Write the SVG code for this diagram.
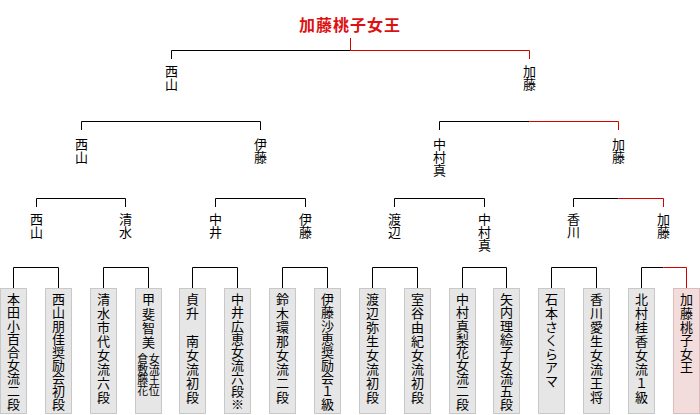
<svg xmlns="http://www.w3.org/2000/svg" width="700" height="415" viewBox="0 0 700 415">
<style>
.t{font-family:"Noto Sans CJK JP","Noto Sans CJK SC",sans-serif;font-size:13px;text-anchor:middle;fill:#000}
.s{font-size:11px}
.title{font-family:"Noto Sans CJK JP","Noto Sans CJK SC",sans-serif;font-size:16px;font-weight:bold;text-anchor:middle;fill:#dd1111;letter-spacing:1px}
.box{fill:#e6e6e6;stroke:#c8c8c8;stroke-width:1}
.win{fill:#f3dcdc;stroke:#dcbcbc;stroke-width:1}
.ln{fill:none;stroke:#000;stroke-width:1}
.rd{fill:none;stroke:#d40000;stroke-width:1}
</style>
<rect width="700" height="415" fill="#fff"/>
<g id="connectors">
<path class="ln" d="M171.5 59V50.5H350.5"/>
<path class="rd" d="M350.5 38V50.5H529.5V59"/>
<path class="ln" d="M81.5 130V121.5H260.5V130"/>
<path class="ln" d="M439.5 130V121.5H529.5"/>
<path class="rd" d="M529.5 121.5H618.5V130"/>
<path class="ln" d="M36.5 207V198.5H125.5V207"/>
<path class="ln" d="M215.5 207V198.5H305.5V207"/>
<path class="ln" d="M394.5 207V198.5H484.5V207"/>
<path class="ln" d="M573.5 207V198.5H618.5"/>
<path class="rd" d="M618.5 198.5H663.5V207"/>
<path class="ln" d="M13.5 288V267.5H58.5V288"/>
<path class="ln" d="M103.5 288V267.5H148.5V288"/>
<path class="ln" d="M192.5 288V267.5H237.5V288"/>
<path class="ln" d="M282.5 288V267.5H327.5V288"/>
<path class="ln" d="M372.5 288V267.5H417.5V288"/>
<path class="ln" d="M462.5 288V267.5H506.5V288"/>
<path class="ln" d="M551.5 288V267.5H596.5V288"/>
<path class="ln" d="M641.5 288V267.5H663.5"/>
<path class="rd" d="M663.5 267.5H686.5V288"/>
</g>
<g id="champion"><text class="title" x="350" y="31">加藤桃子女王</text></g>
<g id="r3-nishiyama"><text class="t" x="171.5 171.5" y="76 89">西山</text></g>
<g id="r3-kato"><text class="t" x="529.5 529.5" y="76 89">加藤</text></g>
<g id="r2-nishiyama"><text class="t" x="81.5 81.5" y="148.7 161.7">西山</text></g>
<g id="r2-ito"><text class="t" x="260.5 260.5" y="148.7 161.7">伊藤</text></g>
<g id="r2-nakamura"><text class="t" x="439.5 439.5 439.5" y="148.7 161.7 174.7">中村真</text></g>
<g id="r2-kato"><text class="t" x="618.5 618.5" y="148.7 161.7">加藤</text></g>
<g id="r1-nishiyama"><text class="t" x="36.5 36.5" y="224 237">西山</text></g>
<g id="r1-shimizu"><text class="t" x="125.5 125.5" y="224 237">清水</text></g>
<g id="r1-nakai"><text class="t" x="215.5 215.5" y="224 237">中井</text></g>
<g id="r1-ito"><text class="t" x="305.5 305.5" y="224 237">伊藤</text></g>
<g id="r1-watanabe"><text class="t" x="394.5 394.5" y="224 237">渡辺</text></g>
<g id="r1-nakamura"><text class="t" x="484.5 484.5 484.5" y="224 237 250">中村真</text></g>
<g id="r1-kagawa"><text class="t" x="573.5 573.5" y="224 237">香川</text></g>
<g id="r1-kato"><text class="t" x="663.5 663.5" y="224 237">加藤</text></g>
<g id="p1"><rect class="box" x="0.5" y="288.5" width="26" height="125"/><text class="t" x="13.5 13.5 13.5 13.5 13.5 13.5 13.5 13.5 13.5" y="304.3 317.4 330.5 343.6 356.7 369.8 382.9 396 409.1">本田小百合女流二段</text></g>
<g id="p2"><rect class="box" x="45.5" y="288.5" width="26" height="125"/><text class="t" x="58.5 58.5 58.5 58.5 58.5 58.5 58.5 58.5 58.5" y="304.3 317.4 330.5 343.6 356.7 369.8 382.9 396 409.1">西山朋佳奨励会初段</text></g>
<g id="p3"><rect class="box" x="90.5" y="288.5" width="26" height="125"/><text class="t" x="103.5 103.5 103.5 103.5 103.5 103.5 103.5 103.5" y="304.3 318.2 332.1 346 359.9 373.8 387.7 401.6">清水市代女流六段</text></g>
<g id="p4"><rect class="box" x="135.5" y="288.5" width="26" height="125"/><text class="t" x="148.5 148.5 148.5 148.5" y="304.3 318.5 332.7 346.9">甲斐智美</text><text class="t s" x="142.8 142.8 142.8 142.8" y="363 373.5 384 394.5">倉敷藤花</text><text class="t s" x="154.2 154.2 154.2 154.2" y="363 373.5 384 394.5">女流王位</text></g>
<g id="p5"><rect class="box" x="179.5" y="288.5" width="26" height="125"/><text class="t" x="192.5 192.5 192.5 192.5 192.5 192.5 192.5 192.5" y="304.3 318.2 332.1 346 359.9 373.8 387.7 401.6">貞升　南女流初段</text></g>
<g id="p6"><rect class="box" x="224.5" y="288.5" width="26" height="125"/><text class="t" x="237.5 237.5 237.5 237.5 237.5 237.5 237.5 237.5 237.5" y="304.3 317.4 330.5 343.6 356.7 369.8 382.9 396 409.1">中井広恵女流六段※</text></g>
<g id="p7"><rect class="box" x="269.5" y="288.5" width="26" height="125"/><text class="t" x="282.5 282.5 282.5 282.5 282.5 282.5 282.5 282.5" y="304.3 318.2 332.1 346 359.9 373.8 387.7 401.6">鈴木環那女流二段</text></g>
<g id="p8"><rect class="box" x="314.5" y="288.5" width="26" height="125"/><text class="t" x="327.5 327.5 327.5 327.5 327.5 327.5 327.5 327.5 327.5" y="304.3 317.4 330.5 343.6 356.7 369.8 382.9 396 409.1">伊藤沙恵奨励会１級</text></g>
<g id="p9"><rect class="box" x="359.5" y="288.5" width="26" height="125"/><text class="t" x="372.5 372.5 372.5 372.5 372.5 372.5 372.5 372.5" y="304.3 318.2 332.1 346 359.9 373.8 387.7 401.6">渡辺弥生女流初段</text></g>
<g id="p10"><rect class="box" x="404.5" y="288.5" width="26" height="125"/><text class="t" x="417.5 417.5 417.5 417.5 417.5 417.5 417.5 417.5" y="304.3 318.2 332.1 346 359.9 373.8 387.7 401.6">室谷由紀女流初段</text></g>
<g id="p11"><rect class="box" x="449.5" y="288.5" width="26" height="125"/><text class="t" x="462.5 462.5 462.5 462.5 462.5 462.5 462.5 462.5 462.5" y="304.3 317.4 330.5 343.6 356.7 369.8 382.9 396 409.1">中村真梨花女流二段</text></g>
<g id="p12"><rect class="box" x="493.5" y="288.5" width="26" height="125"/><text class="t" x="506.5 506.5 506.5 506.5 506.5 506.5 506.5 506.5 506.5" y="304.3 317.4 330.5 343.6 356.7 369.8 382.9 396 409.1">矢内理絵子女流五段</text></g>
<g id="p13"><rect class="box" x="538.5" y="288.5" width="26" height="125"/><text class="t" x="551.5 551.5 551.5 551.5 551.5 551.5 551.5" y="304.3 317.9 331.5 345.1 358.7 372.3 385.9">石本さくらアマ</text></g>
<g id="p14"><rect class="box" x="583.5" y="288.5" width="26" height="125"/><text class="t" x="596.5 596.5 596.5 596.5 596.5 596.5 596.5 596.5" y="304.3 318.2 332.1 346 359.9 373.8 387.7 401.6">香川愛生女流王将</text></g>
<g id="p15"><rect class="box" x="628.5" y="288.5" width="26" height="125"/><text class="t" x="641.5 641.5 641.5 641.5 641.5 641.5 641.5 641.5" y="304.3 318.2 332.1 346 359.9 373.8 387.7 401.6">北村桂香女流１級</text></g>
<g id="p16"><rect class="win" x="673.5" y="288.5" width="26" height="125"/><text class="t" x="686.5 686.5 686.5 686.5 686.5 686.5" y="304.3 317.9 331.5 345.1 358.7 372.3">加藤桃子女王</text></g>
</svg>
